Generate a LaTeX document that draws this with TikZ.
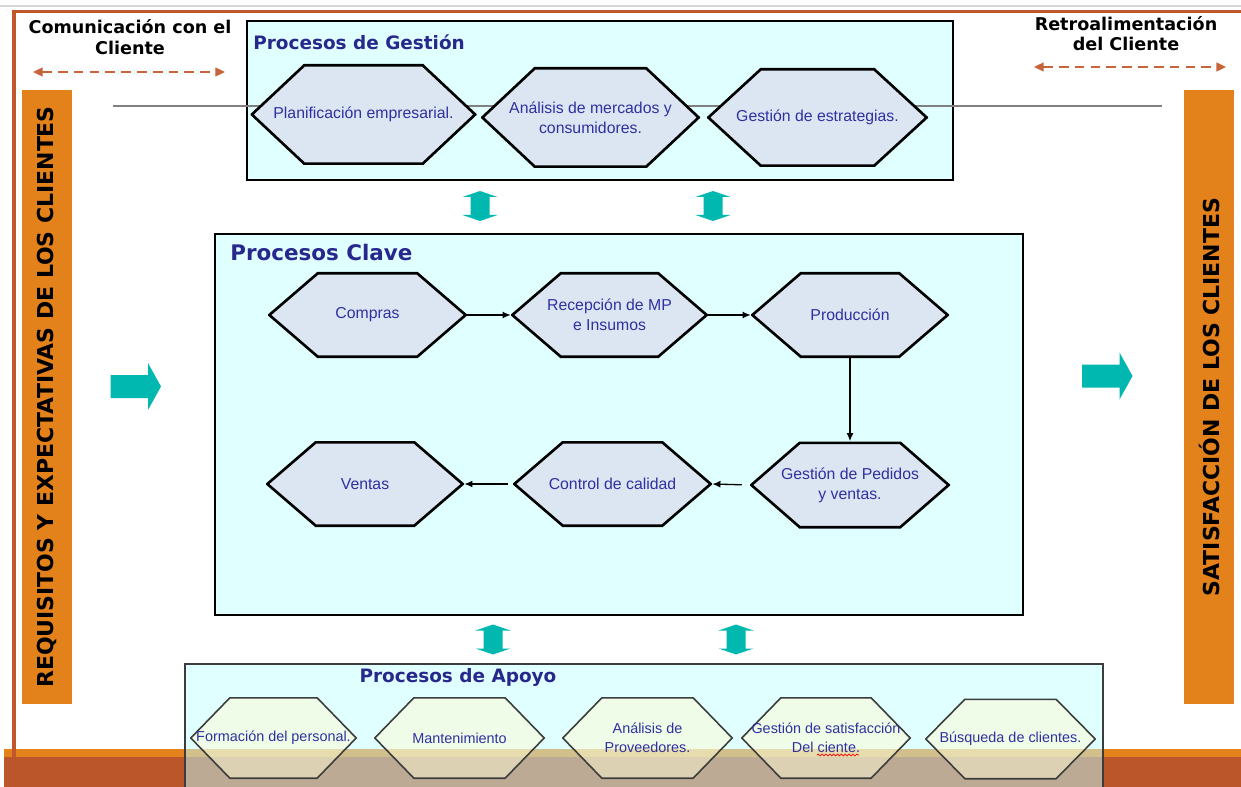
\documentclass[tikz,border=0pt]{standalone}
\usepackage{fontspec}
\setmainfont{Liberation Sans}
\newfontfamily\headfont{DejaVu Sans}
\usetikzlibrary{calc,arrows.meta,decorations.pathmorphing}

\definecolor{boxcyan}{RGB}{224,255,255}
\definecolor{boxcyanA}{RGB}{193,255,255}
\definecolor{hexblue}{RGB}{220,230,242}
\definecolor{hexcream}{RGB}{252,249,209}
\definecolor{txtblue}{RGB}{48,48,160}
\definecolor{titlenavy}{RGB}{40,40,140}
\definecolor{barorange}{RGB}{227,130,26}
\definecolor{framebrown}{RGB}{192,88,44}
\definecolor{bandbrown}{RGB}{186,86,42}
\definecolor{bandorange}{RGB}{227,130,26}
\definecolor{tealarrow}{RGB}{0,184,176}
\definecolor{dashbrown}{RGB}{200,100,60}
\definecolor{ribbongray}{RGB}{215,215,215}
\definecolor{apoyoline}{RGB}{60,60,60}

% one pixel of the drawing grid
\newcommand\upx{0.02cm}

% hexagon parameters, set per group
\def\hexpt{30pt}\def\hexin{0.7pt}\def\hexlw{1.4pt}
\def\hexfillc{hexblue}\def\hexfop{1}\def\hexdrawc{black}

\tikzset{
  hexpt/.store in=\hexpt,
  hexin/.store in=\hexin,
  hexlw/.store in=\hexlw,
  hexfill/.store in=\hexfillc,
  hexfop/.store in=\hexfop,
  hexdraw/.store in=\hexdrawc,
  sz/.style 2 args={minimum width=#1*\upx, minimum height=#2*\upx},
  hexbox/.style={inner sep=0pt, align=center, text=txtblue,
    path picture={
      \filldraw[fill=\hexfillc, fill opacity=\hexfop, draw=\hexdrawc,
                line width=\hexlw, line join=miter]
        ($(path picture bounding box.west)+(\hexin,0pt)$)
        -- ($(path picture bounding box.north west)+(\hexpt,-\hexin)$)
        -- ($(path picture bounding box.north east)+(-\hexpt,-\hexin)$)
        -- ($(path picture bounding box.east)+(-\hexin,0pt)$)
        -- ($(path picture bounding box.south east)+(-\hexpt,\hexin)$)
        -- ($(path picture bounding box.south west)+(\hexpt,\hexin)$)
        -- cycle;
    }},
  gesthex/.style={hexbox, hexpt=30.6pt, hexin=0.75pt, hexlw=1.5pt,
    hexfill=hexblue, hexfop=1, hexdraw=black,
    font=\fontsize{9}{11.3}\selectfont},
  clavehex/.style={hexbox, hexpt=28.3pt, hexin=0.75pt, hexlw=1.5pt,
    hexfill=hexblue, hexfop=1, hexdraw=black,
    font=\fontsize{9}{11.3}\selectfont},
  apoyohex/.style={hexbox, hexpt=22.7pt, hexin=0.45pt, hexlw=0.9pt,
    hexfill=hexcream, hexfop=0.5, hexdraw=apoyoline,
    font=\fontsize{8.2}{10.6}\selectfont},
  flow/.style={line width=0.75pt, -{Latex[length=4.6pt,width=4pt]}},
  grouptitle/.style={text=titlenavy, inner sep=0pt},
  toplabel/.style={align=center, inner sep=0pt,
    font=\headfont\bfseries\fontsize{10}{11.9}\selectfont},
  sidebar/.style={fill=barorange, rotate=90, inner sep=0pt,
    minimum width=614*\upx, minimum height=50*\upx,
    font=\headfont\bfseries\fontsize{12.5}{14}\selectfont},
  feedback/.style={draw=dashbrown, line width=1.1pt,
    dash pattern=on 5.5pt off 3.5pt,
    {Triangle[length=5.5pt,width=5pt]}-{Triangle[length=5.5pt,width=5pt]}},
  vdbl/.pic={\fill[tealarrow] (0,-15) -- (17.5,-9) -- (9.5,-9) -- (9.5,9)
     -- (17.5,9) -- (0,15) -- (-17.5,9) -- (-9.5,9) -- (-9.5,-9)
     -- (-17.5,-9) -- cycle;},
  rblock/.pic={\fill[tealarrow] (-25,-11.5) -- (12.5,-11.5) -- (12.5,-23.5)
     -- (25.5,0) -- (12.5,23.5) -- (12.5,11.5) -- (-25,11.5) -- cycle;}
}

\begin{document}
\begin{tikzpicture}[x=0.02cm, y=-0.02cm]
\useasboundingbox (0,0) rectangle (1241,787);

% window ribbon edge
\draw[ribbongray, line width=0.6pt] (0,6) -- (1241,6);

% ---------------- management processes
\draw[fill=boxcyan, draw=black, line width=1.2pt] (247,21) rectangle (953,180);
\draw[gray, line width=0.7pt] (113,106) -- (1162,106);
\node[grouptitle, anchor=west, font=\headfont\bfseries\fontsize{10.5}{12}\selectfont]
  (tgest) at (253,42) {Procesos de Gestión};
\node[gesthex, sz={226}{101}] (plan) at (363.5,114.5) {Planificación empresarial.};
\node[gesthex, sz={219}{101}] (merc) at (590.5,117.5) {Análisis de mercados y\\consumidores.};
\node[gesthex, sz={221}{99}]  (estr) at (817.5,117.5) {Gestión de estrategias.};

% ---------------- key processes
\draw[fill=boxcyan, draw=black, line width=0.9pt] (215,234) rectangle (1023,615);
\node[grouptitle, anchor=west, font=\headfont\bfseries\fontsize{12.2}{14}\selectfont]
  (tclave) at (230,253) {Procesos Clave};
\node[clavehex, sz={199}{86}] (compras) at (367.5,315) {Compras};
\node[clavehex, sz={197}{86}] (recep)   at (609.5,315) {Recepción de MP\\e Insumos};
\node[clavehex, sz={198}{86}] (prod)    at (850,315)   {Producción};
\node[clavehex, sz={200}{87}] (gped)    at (850,485)   {Gestión de Pedidos\\y ventas.};
\node[clavehex, sz={199}{86}] (ctrl)    at (612.5,484) {Control de calidad};
\node[clavehex, sz={198}{86}] (ventas)  at (365,484)   {Ventas};

\draw[flow] (compras.east) -- (recep.west);
\draw[flow] (recep.east) -- (prod.west);
\draw[flow] (prod.south) -- (gped.north);
\draw[flow, shorten <=4.5pt] (gped.west) -- (ctrl.east);
\draw[flow, shorten <=2.8pt] (ctrl.west) -- (ventas.east);

% ---------------- bottom band of the page
\fill[bandorange] (4,749) rectangle (1241,757);
\fill[bandbrown]  (4,757) rectangle (1241,787);

% ---------------- support processes
\draw[fill=boxcyanA, fill opacity=0.5, draw=apoyoline, line width=0.9pt]
  (185,664) rectangle (1103,800);
\node[grouptitle, font=\headfont\bfseries\fontsize{10.5}{12}\selectfont]
  (tapoyo) at (458,677) {Procesos de Apoyo};
\node[apoyohex, sz={167}{82}] (form)  at (273.5,738) {Formación del personal.};
\node[apoyohex, sz={171}{82}] (mant)  at (459.5,738) {Mantenimiento};
\node[apoyohex, sz={171}{82}] (prov)  at (647.5,738) {Análisis de\\Proveedores.};
\node[apoyohex, sz={170}{82}] (gsat)  at (826,738)   {Gestión de satisfacción\\Del ciente.};
\node[apoyohex, sz={171}{81}] (busq)  at (1010.5,739) {Búsqueda de clientes.};
\draw[red, line width=0.4pt, decorate,
      decoration={snake, amplitude=0.55pt, segment length=2.2pt}]
  ($(gsat.center)+(-9,17)$) -- ($(gsat.center)+(33,17)$);

% ---------------- page frame
\draw[framebrown, line width=1.8pt] (12,11.3) -- (1241,11.3);
\draw[framebrown, line width=2.2pt] (14,10.5) -- (14,757);

% ---------------- customer bars
\node[sidebar] (req) at (47,397) {REQUISITOS Y EXPECTATIVAS DE LOS CLIENTES};
\node[sidebar] (sat) at (1209,397) {SATISFACCIÓN DE LOS CLIENTES};

% ---------------- block arrows
\pic at (135.5,386.5) {rblock};
\pic at (1107,376) {rblock};
\pic at (480,206) {vdbl};
\pic at (713,206) {vdbl};
\pic at (493,639.5) {vdbl};
\pic at (736,639.5) {vdbl};

% ---------------- customer communication labels
\node[toplabel] (com) at (130,37.5) {Comunicación con el\\Cliente};
\node[toplabel, font=\headfont\bfseries\fontsize{10}{11.3}\selectfont]
  (ret) at (1126,34) {Retroalimentación\\del Cliente};
\coordinate (comA) at (33,72);
\coordinate (comB) at (225,72);
\coordinate (retA) at (1034,67);
\coordinate (retB) at (1226,67);
\draw[feedback] (comA) -- (comB);
\draw[feedback] (retA) -- (retB);
\end{tikzpicture}
\end{document}
